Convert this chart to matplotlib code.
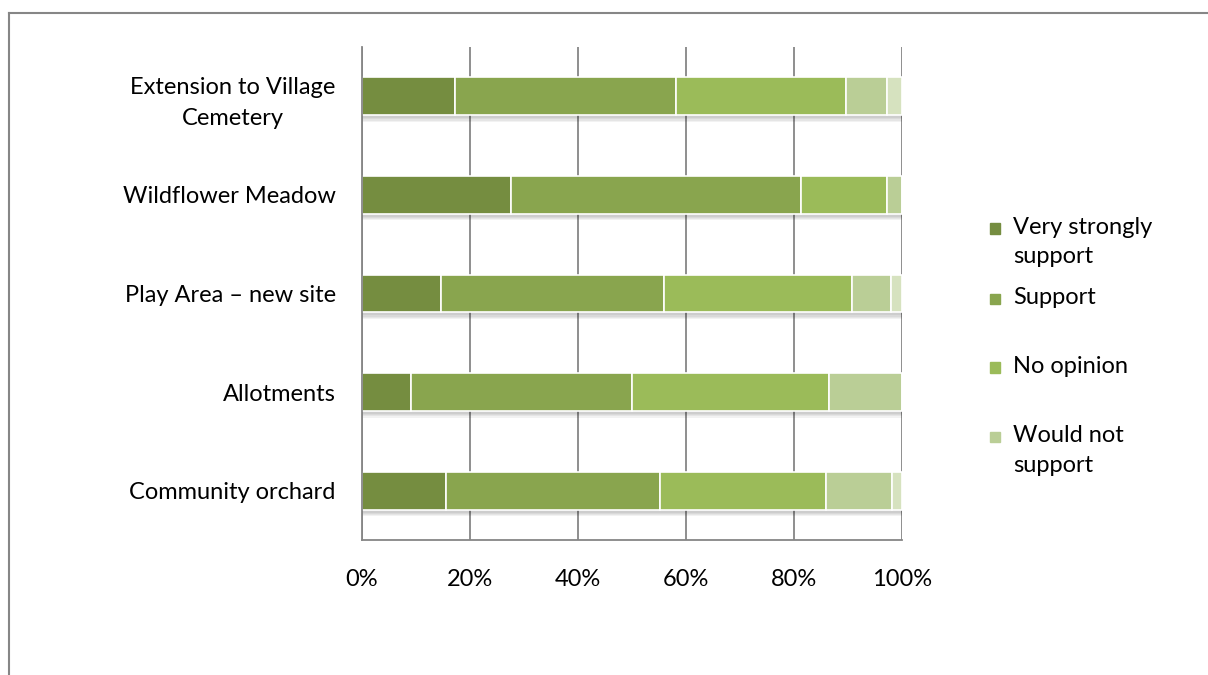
import numpy as np
import matplotlib.pyplot as plt
from matplotlib.patches import Rectangle
from matplotlib.lines import Line2D

plt.rcParams['font.family'] = ['Lato', 'DejaVu Sans']

projects = ['Extension to Village\nCemetery', 'Wildflower Meadow', 'Play Area \u2013 new site',
            'Allotments', 'Community orchard']
very_strongly = [17.2, 27.6, 14.7, 9.1, 15.5]
support = [41.0, 53.7, 41.3, 40.9, 39.6]
no_opinion = [31.4, 16.0, 34.8, 36.5, 30.8]
would_not = [7.7, 2.7, 7.1, 13.5, 12.2]
other = [2.7, 0.0, 2.1, 0.0, 1.9]

series = [very_strongly, support, no_opinion, would_not, other]
labels = ['Very strongly\nsupport', 'Support', 'No opinion', 'Would not\nsupport']
colors = ['#758D40', '#89A54E', '#9BBB59', '#BACE96', '#D6E2BF']

fig = plt.figure(figsize=(12.08, 6.75), dpi=100)
ax = fig.add_axes([0.2997, 0.2, 0.4470, 0.7304])

y = np.arange(len(projects))
h = 0.385
vals = np.array(series)
pct = vals / vals.sum(axis=0) * 100

# soft shadow under each bar
for k in range(4):
    ax.barh(y + 0.03 + k * 0.012, 100, height=h, color='#000000', alpha=0.05,
            zorder=1.5, linewidth=0)

left = np.zeros(len(projects))
for vals_i, col in zip(pct, colors):
    ax.barh(y, vals_i, left=left, height=h, color=col, edgecolor='white',
            linewidth=1.2, zorder=2)
    left += vals_i

fs = 17
ax.set_xlim(0, 100)
ax.set_ylim(len(projects) - 0.5, -0.5)
ax.set_xticks(np.arange(0, 101, 20))
ax.set_xticklabels([f'{v}%' for v in range(0, 101, 20)], fontsize=fs)
ax.set_yticks(y)
ax.set_yticklabels(projects, fontsize=fs, multialignment='center', linespacing=1.55)
ax.tick_params(length=0)
ax.tick_params(axis='y', pad=19)
ax.tick_params(axis='x', pad=21)
ax.grid(axis='x', color='#868686', linewidth=1.3, zorder=0)
ax.set_axisbelow(True)
for s in ['top', 'right']:
    ax.spines[s].set_visible(False)
for s in ['left', 'bottom']:
    ax.spines[s].set_color('#868686')
    ax.spines[s].set_linewidth(1.3)

# legend drawn by hand, entries are not evenly spaced
leg_y = [0.662, 0.558, 0.456, 0.353]
for lab, col, ly in zip(labels, colors, leg_y):
    fig.patches.append(Rectangle((0.8195, ly - 0.008), 0.0085, 0.015, color=col,
                                 transform=fig.transFigure, figure=fig))
    fig.text(0.8385, ly + 0.017, lab, fontsize=fs, va='top', ha='left', linespacing=1.5)

# chart border
fig.lines.append(Line2D([0.0075, 0.0075], [0, 0.981], color='#868686', linewidth=1.5,
                        transform=fig.transFigure))
fig.lines.append(Line2D([0.0075, 1.0], [0.981, 0.981], color='#868686', linewidth=1.5,
                        transform=fig.transFigure))

fig.savefig('out.png', dpi=100)
